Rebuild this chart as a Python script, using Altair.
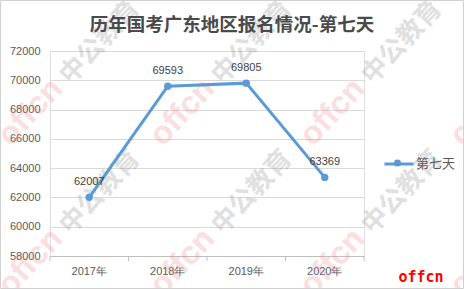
import altair as alt
import pandas as pd

years = ["2017年", "2018年", "2019年", "2020年"]
values = [62007, 69593, 69805, 63369]
series = ["第七天"] * 4
title_text = "历年国考广东地区报名情况-第七天"
y_ticks = [58000, 60000, 62000, 64000, 66000, 68000, 70000, 72000]

df = pd.DataFrame({"year": years, "value": values, "series": series})
tick_df = pd.DataFrame({"year": years})
last_df = pd.DataFrame({"year": years[-1:]})
one_df = pd.DataFrame({"k": [0]})

x_axis = alt.Axis(labelAngle=0, labelColor="#595959", labelFontSize=11,
                  labelFont="Liberation Sans", labelPadding=9, bandPosition=0.5,
                  domainColor="#bfbfbf", ticks=False, grid=False, title=None)
x_scale = alt.Scale(paddingInner=0, paddingOuter=0)
x_enc = alt.X("year:N", sort=years, title=None, scale=x_scale, axis=x_axis)
y_enc = alt.Y("value:Q", title=None,
              scale=alt.Scale(domain=[58000, 72000], nice=False, zero=False),
              axis=alt.Axis(values=y_ticks, labelColor="#595959", labelFontSize=11,
                            labelFont="Liberation Sans", labelPadding=10,
                            domain=False, ticks=False, gridColor="#d9d9d9",
                            format="d"))

base = alt.Chart(df).encode(x=x_enc, y=y_enc)

# watermark (decoration)
wm_layers = []
for cx, cy in [(30, 112), (182, 112), (332, 112), (482, 112),
               (30, 262), (182, 262), (332, 262), (482, 262)]:
    wm_layers.append(
        alt.Chart(one_df).mark_text(
            text="offcn", angle=313, fontSize=32, fontWeight="bold",
            font="Liberation Sans", color="#f08080", opacity=0.25,
            align="center", baseline="middle"
        ).encode(x=alt.value(cx - 50), y=alt.value(cy - 51))
    )
    wm_layers.append(
        alt.Chart(one_df).mark_text(
            text="中公教育", angle=313, fontSize=26, fontWeight="bold",
            font="Noto Sans CJK SC", color="#9a9a9a", opacity=0.3,
            align="center", baseline="middle"
        ).encode(x=alt.value(cx + 70 - 50), y=alt.value(cy - 70 - 51))
    )

ticks = alt.Chart(tick_df).mark_rule(color="#bfbfbf").encode(
    x=alt.X("year:N", sort=years, bandPosition=0, scale=x_scale, axis=x_axis),
    y=alt.value(205), y2=alt.value(210))
last_tick = alt.Chart(last_df).mark_rule(color="#bfbfbf").encode(
    x=alt.X("year:N", sort=years, bandPosition=1, scale=x_scale, axis=x_axis),
    y=alt.value(205), y2=alt.value(210))

line = base.mark_line(color="#5B9BD5", strokeWidth=3,
                      point=alt.OverlayMarkDef(color="#5B9BD5", size=55, filled=True, opacity=1)).encode(
    color=alt.Color("series:N", scale=alt.Scale(range=["#5B9BD5"]),
                    legend=alt.Legend(title=None, orient="none", legendX=333, legendY=97,
                                      symbolType="stroke", symbolStrokeWidth=3,
                                      symbolSize=841, labelFontSize=13, labelOffset=1,
                                      labelColor="#595959", labelFont="Noto Sans CJK SC"))
)

legend_dot = alt.Chart(one_df).mark_point(
    filled=True, color="#5B9BD5", size=50, opacity=1
).encode(x=alt.value(347.5), y=alt.value(112))

labels = base.mark_text(dy=-15, fontSize=11, color="#404040", font="Liberation Sans").encode(
    text=alt.Text("value:Q", format="d")
)

title = alt.Chart(one_df).mark_text(
    text=title_text, fontSize=18.5, fontWeight="bold", font="Noto Sans CJK SC",
    color="#4a4a4a", align="center", baseline="middle"
).encode(x=alt.value(182), y=alt.value(-26))

border = alt.Chart(one_df).mark_rect(
    fillOpacity=0, stroke="#d0d0d0", strokeWidth=1
).encode(x=alt.value(-49.5), x2=alt.value(413.5), y=alt.value(-50.5), y2=alt.value(237.5))

brand = alt.Chart(one_df).mark_text(
    text="offcn", fontSize=15, fontWeight="bold", font="DejaVu Sans Mono",
    color="#ff0000", align="center", baseline="middle"
).encode(x=alt.value(371), y=alt.value(226))

chart = alt.layer(*wm_layers, line, ticks, last_tick, labels, legend_dot, title, brand, border).properties(
    width=314, height=205,
    autosize=alt.AutoSizeParams(type="none"),
    padding={"left": 50, "top": 51, "right": 100, "bottom": 33},
).configure_view(stroke=None, clip=False).configure(background="white")

chart.save("out.html", embed_options={"renderer": "svg", "actions": False})
